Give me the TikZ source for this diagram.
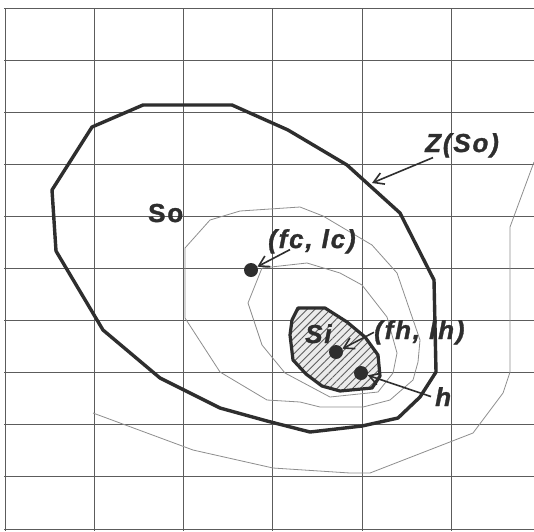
\documentclass[tikz,border=0pt]{standalone}
\usepackage{fontspec}
\setsansfont{Liberation Sans}[LetterSpace=7,BoldFeatures={FakeBold=1.2},BoldItalicFeatures={FakeBold=1.2}]
\usetikzlibrary{arrows.meta,patterns.meta}
\definecolor{PlotInk}{HTML}{2E2E2E}
\definecolor{PlotGrid}{HTML}{5C5C5C}
\definecolor{PlotLevel}{HTML}{8E8E8E}
\definecolor{PlotHatch}{HTML}{5E5E5E}
\tikzset{
  plot/grid/.style={draw=PlotGrid, line width=.9pt},
  plot/level/.style={draw=PlotLevel, line width=.8pt, line join=round},
  plot/bound/.style={draw=PlotInk, line width=3.4pt, line join=round},
  plot/inner/.style={
    plot/bound, line width=3.2pt, preaction={fill=black!8},
    pattern={Lines[angle=45,distance=5.5pt,line width=.9pt]}, pattern color=PlotHatch
  },
  plot/dot/.style={circle, fill=PlotInk, inner sep=0pt, minimum size=14pt},
  plot/label/.style={
    font=\fontsize{26}{28}\sffamily\bfseries\itshape, text=PlotInk,
    inner sep=0pt, anchor=base west
  },
  plot/upright/.style={plot/label, font=\fontsize{26}{28}\sffamily\bfseries},
  plot/arrow/.style={
    -{Straight Barb[length=10pt,width=12pt]}, line width=1.6pt, draw=PlotInk
  }
}
\begin{document}
\begin{tikzpicture}[x=1pt,y=-1pt]
  \useasboundingbox[fill=white] (0,0) rectangle (534,531);
  \foreach \j in {0,...,10}
    \draw[plot/grid] (4,{8+52.1*\j}) -- (534,{8+52.1*\j});
  \foreach \i in {0,...,5}
    \draw[plot/grid] ({5+89.3*\i},8) -- ({5+89.3*\i},531);
  \draw[plot/level] (534,162) -- (510,227) -- (510,372) -- (503,393) -- (473,433)
    -- (370,473) -- (350,473) -- (273,468) -- (193,450) -- (93,413);
  \draw[plot/level] (185,248) -- (210,220) -- (240,211) -- (300,207) -- (323,216)
    -- (350,232) -- (372,245) -- (397,273) -- (420,340) -- (418,362) -- (413,380)
    -- (390,400) -- (363,407) -- (320,407) -- (300,402) -- (267,400) -- (220,372)
    -- (185,318) -- cycle;
  \draw[plot/level] (262,268) -- (307,263) -- (340,273) -- (362,285) -- (387,317)
    -- (397,353) -- (393,373) -- (378,392) -- (330,397) -- (285,373) -- (262,345)
    -- (248,303) -- cycle;
  \draw[plot/bound] (143,105) -- (232,105) -- (288,130) -- (347,165) -- (400,213)
    -- (434,280) -- (436,372) -- (420,397) -- (398,418) -- (362,426) -- (310,432)
    -- (267,421) -- (220,408) -- (160,378) -- (103,330) -- (56,251) -- (52,190)
    -- (92,127) -- cycle;
  \draw[plot/inner] (298,308) -- (325,308) -- (347,322) -- (365,337) -- (378,355)
    -- (380,376) -- (372,388) -- (340,391) -- (322,386) -- (306,374) -- (293,360)
    -- (290,335) -- (292,320) -- cycle;
  \coordinate (zso) at (372,183);
  \node[plot/dot] (fclc) at (251,270) {};
  \node[plot/dot] (fhlh) at (336,352) {};
  \node[plot/dot] (hdot) at (361,373) {};
  \node[plot/label] (lblz) at (425,152) {Z(So)};
  \node[plot/upright] (lblso) at (148,222) {So};
  \node[plot/label] (lblfc) at (268,248) {(fc, lc)};
  \node[plot/label] (lblsi) at (305,343) {Si};
  \node[plot/label] (lblfh) at (374,339) {(fh, lh)};
  \node[plot/label] (lblh) at (435,406) {h};
  \draw[plot/arrow] ([xshift=8pt]lblz.south west) -- (zso);
  \draw[plot/arrow] ([xshift=22pt,yshift=4pt]lblfc.south west) -- (fclc);
  \draw[plot/arrow] (lblfh.west) -- (fhlh);
  \draw[plot/arrow] ([xshift=-4pt]lblh.west) -- (hdot);
\end{tikzpicture}
\end{document}
